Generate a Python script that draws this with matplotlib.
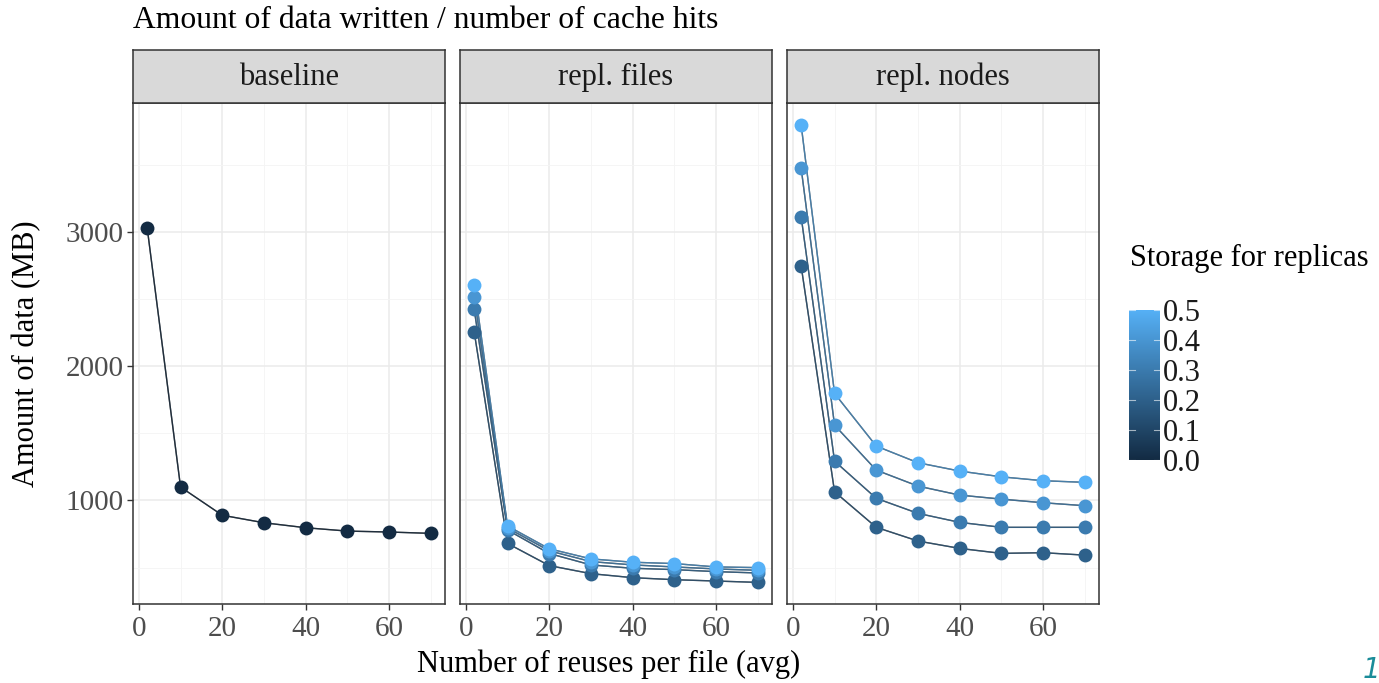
import matplotlib
matplotlib.use("Agg")
import matplotlib.pyplot as plt
import matplotlib.colors as mcolors
import numpy as np

plt.rcParams['font.family'] = ['Liberation Serif', 'DejaVu Serif']

reuses = [2, 10, 20, 30, 40, 50, 60, 70]
panels = ["baseline", "repl. files", "repl. nodes"]

# storage fraction -> amount of data written (MB)
baseline = {0.0: [3030, 1100, 890, 834, 797, 772, 765, 755]}
repl_files = {
    0.2: [2256, 680, 515, 455, 425, 410, 400, 390],
    0.3: [2423, 780, 605, 520, 495, 485, 470, 460],
    0.4: [2517, 795, 625, 545, 520, 505, 490, 480],
    0.5: [2604, 810, 640, 565, 540, 530, 505, 500],
}
repl_nodes = {
    0.2: [2745, 1065, 800, 698, 643, 606, 611, 593],
    0.3: [3112, 1293, 1016, 904, 837, 800, 800, 800],
    0.4: [3473, 1561, 1226, 1107, 1040, 1010, 983, 961],
    0.5: [3795, 1797, 1405, 1281, 1219, 1176, 1147, 1135],
}
data = [baseline, repl_files, repl_nodes]

cmap = mcolors.LinearSegmentedColormap.from_list("gg", ["#132B43", "#56B1F7"])
norm = mcolors.Normalize(0, 0.5)

W, H = 1379, 683
fig = plt.figure(figsize=(W / 100, H / 100), dpi=100)


def px(x0, y0, x1, y1):
    return [x0 / W, 1 - y1 / H, (x1 - x0) / W, (y1 - y0) / H]


lefts = [133, 460, 787]
pw = 312
ptop, pbot, stop = 103, 604, 50
fs = 22

for i, (name, d) in enumerate(zip(panels, data)):
    ax = fig.add_axes(px(lefts[i], ptop, lefts[i] + pw, pbot))
    ax.set_xlim(-1.4, 73.4)
    ax.set_ylim(229, 3960)
    ax.set_xticks([0, 20, 40, 60])
    ax.set_xticks([10, 30, 50, 70], minor=True)
    ax.set_yticks([1000, 2000, 3000])
    ax.set_yticks([500, 1500, 2500, 3500], minor=True)
    ax.grid(which='major', color='#EBEBEB', lw=1.1)
    ax.grid(which='minor', color='#F4F4F4', lw=0.6)
    ax.set_axisbelow(True)
    for sp in ax.spines.values():
        sp.set_color('#333333')
        sp.set_linewidth(1.1)
    ax.tick_params(which='minor', length=0)
    ax.tick_params(which='major', length=4, width=1, color='#333333',
                   labelcolor='#4D4D4D', labelsize=21)
    ax.tick_params(axis='x', pad=5)
    ax.tick_params(axis='y', pad=3)
    if i > 0:
        ax.tick_params(axis='y', labelleft=False, length=0)
    for s, vals in d.items():
        c = cmap(norm(s))
        ax.plot(reuses, vals, color='#333333', lw=1.0, zorder=2)
        ax.plot(reuses, vals, color=c, lw=1.0, alpha=0.6, zorder=2)
        ax.plot(reuses, vals, 'o', color=c, ms=10, mec='none', zorder=3)

    sax = fig.add_axes(px(lefts[i], stop, lefts[i] + pw, ptop))
    sax.set_facecolor('#D9D9D9')
    sax.set_xticks([])
    sax.set_yticks([])
    for sp in sax.spines.values():
        sp.set_color('#333333')
        sp.set_linewidth(1.1)
    sax.text(0.5, 0.48, name, ha='center', va='center', fontsize=fs,
             color='#1A1A1A', transform=sax.transAxes)

fig.text(133 / W, 1 - 21 / H, "Amount of data written / number of cache hits",
         fontsize=22.8, ha='left', va='center', color='black')
fig.text(609 / W, 1 - 664 / H, "Number of reuses per file (avg)",
         fontsize=fs, ha='center', va='center')
fig.text(27 / W, 1 - 354 / H, "Amount of data (MB)", fontsize=fs,
         ha='center', va='center', rotation=90)

# colour bar legend
cax = fig.add_axes(px(1129, 310, 1160, 460))
grad = np.linspace(0, 0.5, 256).reshape(-1, 1)
cax.imshow(grad, aspect='auto', cmap=cmap, norm=norm, origin='lower',
           extent=[0, 1, 0, 0.5])
cax.set_xlim(0, 1)
cax.set_ylim(0, 0.5)
for sp in cax.spines.values():
    sp.set_visible(False)
cax.set_xticks([])
ticks = [0.0, 0.1, 0.2, 0.3, 0.4, 0.5]
cax.set_yticks(ticks)
cax.set_yticklabels(["%.1f" % t for t in ticks])
cax.yaxis.tick_right()
cax.tick_params(axis='y', length=0, labelsize=fs, labelcolor='#1A1A1A', pad=2)
for t in ticks:
    cax.plot([0, 0.2], [t, t], color='white', lw=0.8, alpha=0.6)
    cax.plot([0.8, 1], [t, t], color='white', lw=0.8, alpha=0.6)
fig.text(1130 / W, 1 - 258 / H, "Storage for replicas", fontsize=fs,
         ha='left', va='center')

fig.text(1371 / W, 1 - 670 / H, "1", fontsize=20, color='#1A8C99',
         style='italic', ha='center', va='center', family='DejaVu Sans')

fig.savefig("out.png", dpi=100)
